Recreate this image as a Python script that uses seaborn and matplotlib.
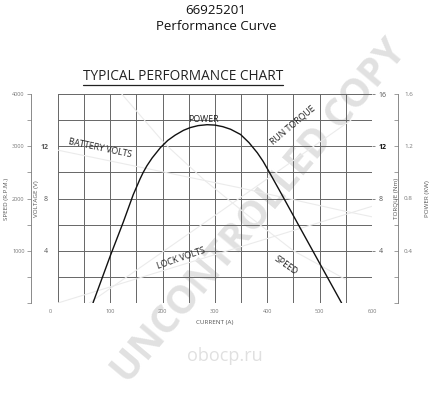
import matplotlib
matplotlib.use("Agg")
import matplotlib.pyplot as plt
import matplotlib.ticker as mticker
from matplotlib.lines import Line2D
import pandas as pd
import seaborn as sns

# power curve (current in A, power in kW)
current = [67, 100, 125, 144, 150, 157, 163, 170, 180, 190, 196, 210, 224, 240, 253, 268, 285,
           300, 315, 330, 349, 365, 381, 392, 402, 425, 460, 502, 542]
power = [0, 0.36, 0.62, 0.83, 0.885, 0.95, 1.0, 1.05, 1.11, 1.16, 1.19, 1.245, 1.285, 1.322, 1.343, 1.358, 1.365,
         1.362, 1.35, 1.33, 1.29, 1.228, 1.15, 1.085, 1.015, 0.85, 0.595, 0.29, 0]

# faint background curves (barely visible in the reference)
speed_current = [122, 205, 280, 360, 450, 550]
speed_rpm = [4000, 3040, 2350, 1700, 1000, 450]
batt_current = [0, 157, 350, 540, 600]
batt_volts = [11.7, 10.4, 8.8, 7.1, 6.6]
lock_current = [0, 300, 600]
lock_volts = [0, 3.7, 7.4]
torque_current = [60, 300, 560]
torque_nm = [0, 6.7, 14.0]

x_ticks = [0, 100, 200, 300, 400, 500, 600]
speed_ticks = [1000, 2000, 3000, 4000]
volt_ticks = [4, 8, 12]
torque_ticks = [4, 8, 12, 16]
power_ticks = [0.4, 0.8, 1.2, 1.6]

sns.set_style("white")
plt.rcParams['font.family'] = ['Open Sans', 'DejaVu Sans']

fig = plt.figure(figsize=(4.32, 4.0), dpi=100)

# watermark sits under the chart
fig.text(0.6, 0.47, "UNCONTROLLED COPY", rotation=50, ha="center", va="center", fontsize=28,
         fontweight="bold", color="#e1e1e1", zorder=-1)
fig.text(0.52, 0.11, "obocp.ru", ha="center", va="center", fontsize=13, color="#e0e0e0", zorder=-1)

ax = fig.add_axes([0.134, 0.2425, 0.727, 0.5225])
ax.set_facecolor("none")

grid_c = "#666666"
tick_c = "#777777"
faint = "#ebebeb"

ax.set_xlim(0, 600)
ax.set_ylim(0, 4000)
ax.xaxis.set_major_locator(mticker.MultipleLocator(50))
ax.yaxis.set_major_locator(mticker.MultipleLocator(500))
ax.grid(True, color=grid_c, linewidth=0.7)
ax.tick_params(axis="both", length=0, labelleft=False, labelbottom=False)
for s in ax.spines.values():
    s.set_visible(False)

# x tick labels
for v in x_ticks:
    ax.text(v if v else -15, -120, str(v), ha="center", va="top", fontsize=4, color=tick_c)
ax.text(300, -330, "CURRENT (A)", ha="center", va="top", fontsize=4.5, color="#555555")

# faint curves, scaled onto the speed axis
sns.lineplot(x=speed_current, y=speed_rpm, ax=ax, color=faint, linewidth=0.8)
sns.lineplot(x=batt_current, y=[v / 16 * 4000 for v in batt_volts], ax=ax, color=faint, linewidth=0.8)
sns.lineplot(x=lock_current, y=[v / 16 * 4000 for v in lock_volts], ax=ax, color=faint, linewidth=0.8)
sns.lineplot(x=torque_current, y=[v / 16 * 4000 for v in torque_nm], ax=ax, color=faint, linewidth=0.8)

# power curve on its own axis
axp = ax.twinx()
df = pd.DataFrame({"current": current, "power": power})
sns.lineplot(data=df, x="current", y="power", ax=axp, color="#111111", linewidth=1.0, sort=False)
axp.set_ylim(0, 1.6)
axp.set_xlim(0, 600)
for k, s in axp.spines.items():
    s.set_visible(k == "right")
axp.spines["right"].set_position(("outward", 19))
axp.spines["right"].set_color(tick_c)
axp.spines["right"].set_linewidth(0.6)
axp.yaxis.set_major_locator(mticker.FixedLocator(power_ticks))
axp.yaxis.set_minor_locator(mticker.MultipleLocator(0.2))
axp.tick_params(axis="y", which="both", direction="in", length=3, width=0.5, colors=tick_c, labelsize=4.5, pad=4)
axp.set_ylabel("POWER (KW)", fontsize=4.5, color="#555555", labelpad=9)
axp.set_xlabel("")

# speed axis on the far left
axs = ax.twinx()
axs.set_ylim(0, 4000)
for k, s in axs.spines.items():
    s.set_visible(k == "left")
axs.spines["left"].set_position(("outward", 19))
axs.spines["left"].set_color(tick_c)
axs.spines["left"].set_linewidth(0.6)
axs.yaxis.set_ticks_position("left")
axs.yaxis.set_label_position("left")
axs.yaxis.set_major_locator(mticker.FixedLocator(speed_ticks))
axs.yaxis.set_minor_locator(mticker.MultipleLocator(500))
axs.tick_params(axis="y", which="both", direction="out", length=3, width=0.5, colors=tick_c, labelsize=4, pad=2)
axs.set_ylabel("SPEED (R.P.M.)", fontsize=4.5, color="#555555", labelpad=2)

# voltage axis just left of the grid
axv = ax.twinx()
axv.set_ylim(0, 16)
for s in axv.spines.values():
    s.set_visible(False)
axv.yaxis.set_ticks_position("left")
axv.yaxis.set_label_position("left")
axv.set_yticks(volt_ticks)
axv.tick_params(axis="y", length=0, colors="#555555", labelsize=5, pad=7)
axv.set_ylabel("VOLTAGE (V)", fontsize=4.5, color="#555555", labelpad=0.5)
axv.get_yticklabels()[-1].set_fontweight("bold")

# torque axis just right of the grid
axt = ax.twinx()
axt.set_ylim(0, 16)
for s in axt.spines.values():
    s.set_visible(False)
axt.set_yticks(torque_ticks)
axt.tick_params(axis="y", direction="out", length=2, width=0.5, colors="#555555", labelsize=5, pad=3)
axt.set_ylabel("TORQUE (Nm)", fontsize=4.5, color="#555555", labelpad=5)
axt.get_yticklabels()[2].set_fontweight("bold")
axt.get_yticklabels()[2].set_color("#111111")

# curve labels
lab = dict(fontsize=6.3, color="#222222", ha="center", va="center", zorder=5)
ax.text(278, 3520, "POWER", **lab)
ax.text(80, 2967, "BATTERY VOLTS", rotation=-12, **lab)
ax.text(449, 3407, "RUN TORQUE", rotation=40, **lab)
ax.text(236, 861, "LOCK VOLTS", rotation=19, **lab)
ax.text(435, 727, "SPEED", rotation=-35, **lab)

# titles
fig.text(0.5, 0.975, "66925201", ha="center", va="center", fontsize=9.5, color="#111111")
fig.text(0.5, 0.933, "Performance Curve", ha="center", va="center", fontsize=9.5, color="#111111")
t = fig.text(0.424, 0.81, "TYPICAL PERFORMANCE CHART", ha="center", va="center", fontsize=9.8, color="#222222")

# underline for the chart heading
fig.canvas.draw()
bb = t.get_window_extent().transformed(fig.transFigure.inverted())
fig.add_artist(Line2D([bb.x0, bb.x1], [bb.y0 - 0.004, bb.y0 - 0.004], color="#222222", linewidth=0.9,
                      transform=fig.transFigure))

fig.savefig("out.png", dpi=100)
